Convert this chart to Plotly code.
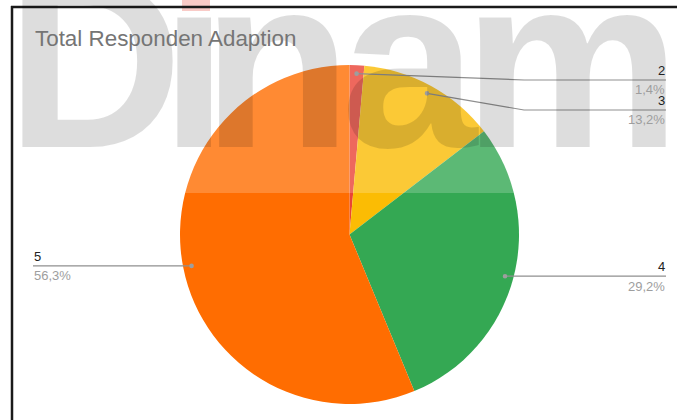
import math
import plotly.graph_objects as go

# ---- data ----
categories = ["2", "3", "4", "5"]
percent = [1.4, 13.2, 29.2, 56.3]
colors = ["#ea4335", "#fbbc04", "#34a853", "#ff6d01"]
title_text = "Total Responden Adaption"
watermark_letters = ["D", "\u0131", "n", "a", "m"]
watermark_centers = [95, 194, 277, 410, 572]

W, H = 677, 420
CX, CY, R = 349.5, 234.5, 169.5
FONT = "Liberation Sans, Arial, sans-serif"
WM_FONT = "Liberation Sans Narrow, Arial Narrow, Liberation Sans, sans-serif"


def px(x):
    return x / W


def py(y):
    return 1 - y / H


fig = go.Figure(
    go.Pie(
        labels=categories,
        values=percent,
        sort=False,
        direction="clockwise",
        rotation=0,
        marker=dict(colors=colors, line=dict(width=0)),
        textinfo="none",
        hoverinfo="skip",
        showlegend=False,
        domain=dict(x=[px(CX - R), px(CX + R)], y=[py(CY + R), py(CY - R)]),
    )
)

shapes = []
annotations = []

# watermark letters
for ch, cx in zip(watermark_letters, watermark_centers):
    annotations.append(dict(
        text=ch, x=px(cx), y=py(200), xref="paper", yref="paper",
        xanchor="center", yanchor="bottom", showarrow=False, borderpad=0,
        font=dict(family=WM_FONT, size=245, color="rgba(0,0,0,0.135)", weight="bold"),
    ))

# white translucent overlay on the upper band
shapes.append(dict(type="rect", xref="paper", yref="paper", x0=0, x1=1,
                   y0=py(193), y1=1, fillcolor="rgba(255,255,255,0.2)",
                   line=dict(width=0), layer="above"))
# red dot of the watermark "i"
shapes.append(dict(type="rect", xref="paper", yref="paper", x0=px(182), x1=px(210),
                   y0=py(11), y1=1, fillcolor="rgba(234,67,53,0.28)",
                   line=dict(width=0), layer="above"))
# frame lines
shapes.append(dict(type="line", xref="paper", yref="paper", x0=px(11), x1=1,
                   y0=py(7), y1=py(7), line=dict(color="#1a1a1a", width=2.5), layer="above"))
shapes.append(dict(type="line", xref="paper", yref="paper", x0=px(12), x1=px(12),
                   y0=py(6), y1=0, line=dict(color="#1a1a1a", width=2.5), layer="above"))

# title
annotations.append(dict(
    text=title_text, x=px(34), y=py(52), xref="paper", yref="paper",
    xanchor="left", yanchor="bottom", showarrow=False, borderpad=0,
    font=dict(family=FONT, size=22.4, color="#757575"),
))

# label anchors
total = sum(percent)
cum = 0.0
anchors = []
for cat, v in zip(categories, percent):
    mid = (cum + v / 2) / total * 2 * math.pi
    cum += v
    ax = CX + 0.95 * R * math.sin(mid)
    ay = CY - 0.95 * R * math.cos(mid)
    anchors.append((cat, v, ax, ay, math.sin(mid) >= 0))

right = sorted([a for a in anchors if a[4]], key=lambda a: a[3])
left = [a for a in anchors if not a[4]]

placed = []
prev = -1e9
for cat, v, ax, ay, side in right:
    ly = max(ay, prev + 30, 80)
    prev = ly
    placed.append((cat, v, ax, ay, ly, True))
for cat, v, ax, ay, side in left:
    placed.append((cat, v, ax, ay, ay, False))

LINE_C = "#8f8f8f"
for cat, v, ax, ay, ly, is_right in placed:
    end_x = 666 if is_right else 33
    if abs(ly - ay) > 0.5:
        elbow = 524 if is_right else 176
        path = f"M {px(ax)},{py(ay)} L {px(elbow)},{py(ly)} L {px(end_x)},{py(ly)}"
    else:
        path = f"M {px(ax)},{py(ay)} L {px(end_x)},{py(ly)}"
    shapes.append(dict(type="path", xref="paper", yref="paper", path=path,
                       line=dict(color=LINE_C, width=1.2), layer="above"))
    shapes.append(dict(type="circle", xref="paper", yref="paper",
                       x0=px(ax - 2.3), x1=px(ax + 2.3), y0=py(ay + 2.3), y1=py(ay - 2.3),
                       fillcolor="#9e9e9e", line=dict(width=0), layer="above"))
    tx = px(666) if is_right else px(33)
    xa = "right" if is_right else "left"
    annotations.append(dict(
        text=cat, x=tx, y=py(ly - 1), xref="paper", yref="paper",
        xanchor=xa, yanchor="bottom", showarrow=False, borderpad=0,
        font=dict(family=FONT, size=13, color="#222222"),
    ))
    annotations.append(dict(
        text=f"{v:.1f}".replace(".", ",") + "%", x=tx, y=py(ly + 1.5), xref="paper", yref="paper",
        xanchor=xa, yanchor="top", showarrow=False, borderpad=0,
        font=dict(family=FONT, size=13, color="#9e9e9e"),
    ))

fig.update_layout(
    width=W, height=H,
    margin=dict(l=0, r=0, t=0, b=0),
    paper_bgcolor="white", plot_bgcolor="white",
    shapes=shapes, annotations=annotations,
    showlegend=False,
)

fig.write_html("out.html")
